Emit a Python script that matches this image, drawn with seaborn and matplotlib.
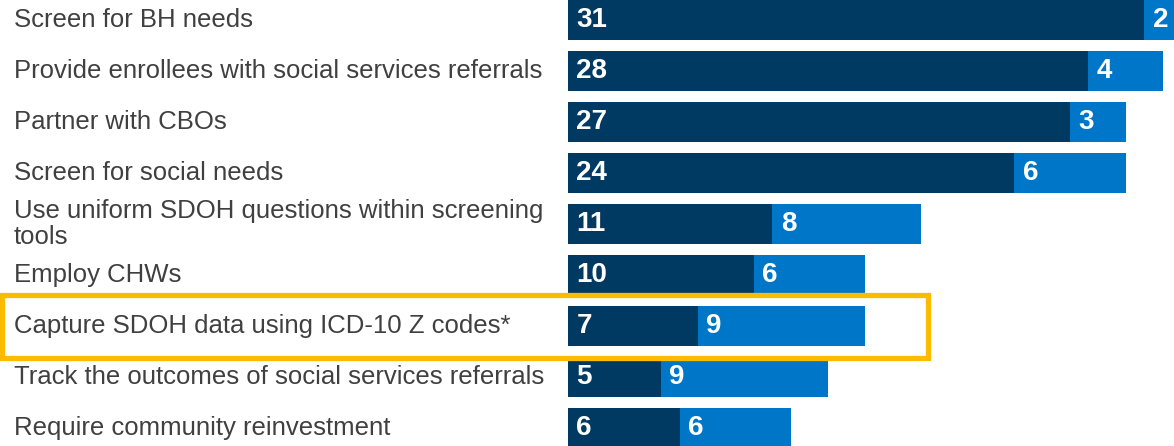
import matplotlib
matplotlib.use('Agg')
import matplotlib.pyplot as plt
import matplotlib.patches as patches
import matplotlib.transforms as mtransforms
import seaborn as sns
import pandas as pd

categories = [
    'Screen for BH needs',
    'Provide enrollees with social services referrals',
    'Partner with CBOs',
    'Screen for social needs',
    'Use uniform SDOH questions within screening\ntools',
    'Employ CHWs',
    'Capture SDOH data using ICD-10 Z codes*',
    'Track the outcomes of social services referrals',
    'Require community reinvestment',
]
dark_values = [31, 28, 27, 24, 11, 10, 7, 5, 6]
light_values = [2, 4, 3, 6, 8, 6, 9, 9, 6]
highlight = 'Capture SDOH data using ICD-10 Z codes*'

dark_color = '#003a63'
light_color = '#0076c9'
text_color = '#404040'
box_color = '#fbbc00'

df = pd.DataFrame({'cat': categories, 'dark': dark_values, 'light': light_values})
df['total'] = df['dark'] + df['light']

sns.set_style('white')
plt.rcParams['font.family'] = ['Liberation Sans', 'DejaVu Sans']

fig = plt.figure(figsize=(11.74, 4.46), dpi=100)
ax = fig.add_axes([568 / 1174, 0, 1 - 568 / 1174, 1])

sns.barplot(data=df, x='total', y='cat', color=light_color, orient='h',
            width=0.78, saturation=1, linewidth=0, ax=ax)
sns.barplot(data=df, x='dark', y='cat', color=dark_color, orient='h',
            width=0.78, saturation=1, linewidth=0, ax=ax)

ax.set_xlim(0, 32.6)
ax.set_ylim(8.35, -0.39)
ax.set_xlabel('')
ax.set_ylabel('')
ax.set_xticks([])
ax.set_yticks([])
sns.despine(ax=ax, left=True, bottom=True)

num_font = dict(color='white', fontsize=20, fontweight='bold', va='center')
label_tr = mtransforms.blended_transform_factory(fig.transFigure, ax.transData)

for i, row in df.iterrows():
    ax.text(0.45, i, str(row['dark']), ha='left', **num_font)
    ax.text(row['dark'] + 0.45, i, str(row['light']), ha='left', **num_font)
    ax.text(14 / 1174, i, row['cat'], ha='left', va='center', fontsize=18.5,
            color=text_color, transform=label_tr, linespacing=1.15)

hi = categories.index(highlight)
rect = patches.Rectangle((2 / 1174, hi - 0.6), 926 / 1174, 1.22,
                         transform=label_tr, fill=False, edgecolor=box_color,
                         linewidth=3.8, clip_on=False, zorder=5)
fig.add_artist(rect)

fig.savefig('out.png', dpi=100)
